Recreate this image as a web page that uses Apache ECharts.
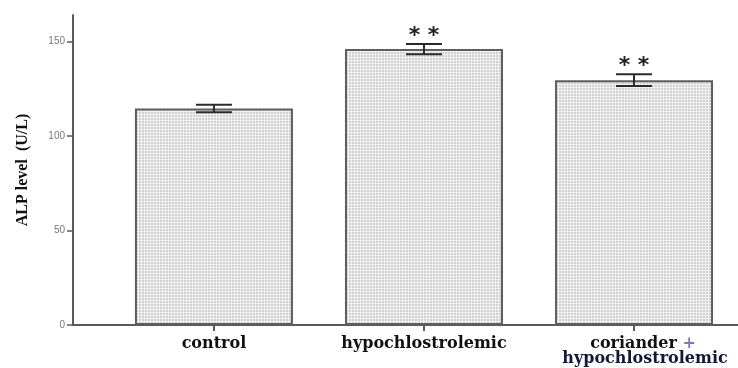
<!DOCTYPE html>
<html>
<head>
<meta charset="utf-8">
<script src="https://cdn.jsdelivr.net/npm/echarts@6/dist/echarts.min.js"></script>
<style>html,body{margin:0;padding:0;background:#fff}#chart{width:738px;height:368px}</style>
</head>
<body>
<div id="chart"></div>
<script>
// Group names and mean ALP values (U/L) with their error half-widths
const groups = ['control', 'hypochlostrolemic', 'coriander +\nhypochlostrolemic'];
const alpMean = [114.5, 146, 129.5];
const alpErr = [2, 2.7, 3.1];
const significance = ['', '* *', '* *'];
const yTicks = [0, 50, 100, 150];

// Fine grey grid texture for the bars
function stipple() {
  const c = document.createElement('canvas');
  c.width = 3; c.height = 3;
  const g = c.getContext('2d');
  g.fillStyle = '#d2d2d2'; g.fillRect(0, 0, 3, 3);
  g.fillStyle = '#ededed';
  g.fillRect(0, 0, 3, 1); g.fillRect(0, 0, 1, 3);
  g.fillStyle = '#f8f8f8';
  g.fillRect(0, 0, 1, 1);
  return c;
}

const positions = groups.map((_, i) => i);
const chart = echarts.init(document.getElementById('chart'), null, { renderer: 'canvas' });

const labelFont = { fontFamily: 'DejaVu Serif', fontWeight: 'bold', fontSize: 16, lineHeight: 15 };

chart.setOption({
  animation: false,
  grid: { left: 73, right: 0, top: 15, bottom: 43 },
  xAxis: {
    type: 'value',
    min: -0.671, max: 2.495,
    splitLine: { show: false },
    axisLine: { onZero: false, lineStyle: { color: '#5a5a5a', width: 2 } },
    axisTick: { show: true, customValues: positions, length: 6, lineStyle: { color: '#5a5a5a', width: 2 } },
    axisLabel: {
      customValues: positions,
      margin: 11,
      formatter: v => {
        const name = groups[Math.round(v)];
        if (name.indexOf('+') >= 0) {
          const parts = name.split('\n');
          return '{s|' + parts[0].replace(' +', ' ') + '}{p|+}\n{n|' + parts[1] + '}';
        }
        return '{b|' + name + '}';
      },
      rich: {
        b: Object.assign({ color: '#111' }, labelFont),
        s: Object.assign({ color: '#111', padding: [0, 0, 0, 18] }, labelFont),
        p: Object.assign({ color: '#8a70b8' }, labelFont),
        n: Object.assign({ color: '#141838', padding: [0, 0, 0, 22] }, labelFont)
      }
    }
  },
  yAxis: {
    type: 'value',
    min: 0, max: 164,
    name: 'ALP level  (U/L)',
    nameLocation: 'middle',
    nameGap: 42,
    nameRotate: 90,
    nameTextStyle: { fontFamily: 'Liberation Serif', fontWeight: 'bold', fontSize: 16, color: '#111' },
    splitLine: { show: false },
    axisLine: { show: true, onZero: false, lineStyle: { color: '#5a5a5a', width: 2 } },
    axisTick: { show: true, customValues: yTicks, length: 6, lineStyle: { color: '#5a5a5a', width: 1.5 } },
    axisLabel: { customValues: yTicks, fontFamily: 'Liberation Sans', fontSize: 10, color: '#777', margin: 8 }
  },
  series: [
    {
      type: 'bar',
      data: alpMean.map((v, i) => [positions[i], v]),
      barWidth: 158,
      itemStyle: {
        color: { image: stipple(), repeat: 'repeat' },
        borderColor: '#5e5e5e',
        borderWidth: 2
      }
    },
    {
      type: 'custom',
      data: alpMean.map((v, i) => [positions[i], v - alpErr[i], v + alpErr[i], v + alpErr[i]]),
      renderItem: (params, api) => {
        const x = api.value(0);
        const lo = api.coord([x, api.value(1)]);
        const hi = api.coord([x, api.value(2)]);
        const half = 18;
        const st = { stroke: '#2a2a2a', lineWidth: 2 };
        const idx = params.dataIndex;
        const children = [
          { type: 'line', shape: { x1: lo[0], y1: lo[1], x2: hi[0], y2: hi[1] }, style: st },
          { type: 'line', shape: { x1: lo[0] - half, y1: lo[1], x2: lo[0] + half, y2: lo[1] }, style: st },
          { type: 'line', shape: { x1: hi[0] - half, y1: hi[1], x2: hi[0] + half, y2: hi[1] }, style: st }
        ];
        if (significance[idx]) {
          children.push({
            type: 'text',
            style: {
              text: significance[idx], x: hi[0], y: hi[1] + 3,
              align: 'center', verticalAlign: 'bottom',
              fontFamily: 'DejaVu Sans', fontWeight: 'bold', fontSize: 22, fill: '#1f1f1f'
            }
          });
        }
        return { type: 'group', children };
      },
      z: 5
    }
  ]
});
</script>
</body>
</html>
